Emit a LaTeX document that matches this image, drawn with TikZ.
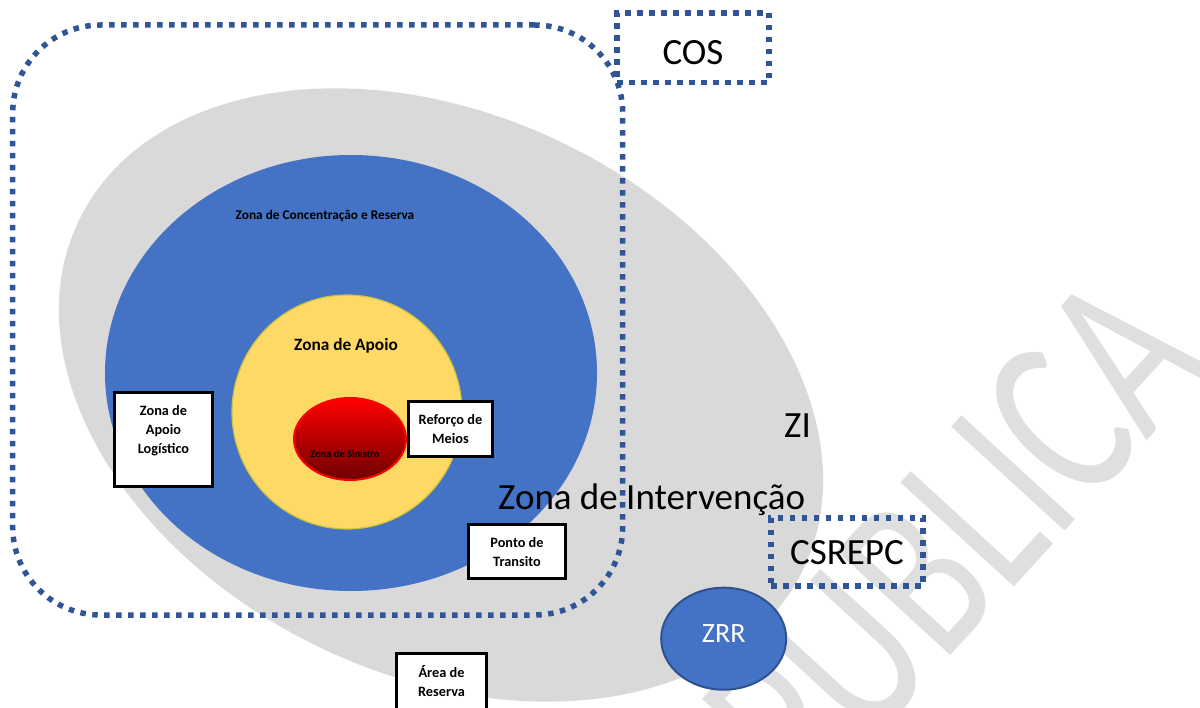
\documentclass[tikz,border=0pt]{standalone}
\usepackage{fontspec}
\setmainfont{Carlito}
\newfontfamily\wmfont[FakeStretch=0.72]{Carlito}
\usetikzlibrary{shapes.geometric}
\definecolor{zgrey}{HTML}{D9D9D9}
\definecolor{zblue}{HTML}{4472C4}
\definecolor{zyellow}{HTML}{FFD966}
\definecolor{zyellowedge}{RGB}{205,195,60}
\definecolor{dotblue}{HTML}{2F5597}
\definecolor{zrrline}{HTML}{2F528F}
\definecolor{wmark}{HTML}{DFDFDF}
\definecolor{darkred}{RGB}{110,0,0}
\definecolor{midred}{RGB}{215,0,0}
% top-aligned text block of fixed size for the white label boxes
\newcommand\boxlines[3]{\parbox[c][#2][t]{#1}{\centering\vspace*{10.2pt}\strut #3}}
\begin{document}
\begin{tikzpicture}[x=1pt,y=-1pt,
  zone/.style={ellipse, inner sep=0pt},
  infobox/.style={draw=black, line width=3pt, fill=white, inner sep=0pt,
    font=\bfseries\fontsize{14.3}{19}\selectfont},
  dotframe/.style={draw=dotblue, line width=5.5pt, dash pattern=on 5.5pt off 6.5pt, inner sep=0pt},
  bigtext/.style={font=\fontsize{37}{44}\selectfont, inner sep=0pt},
  zonelabel/.style={font=\bfseries\fontsize{#1}{#1}\selectfont, inner sep=0pt, anchor=base},
]
\useasboundingbox (0,0) rectangle (1200,708);
\clip (0,0) rectangle (1200,708);

% background watermark
\node[text=wmark, font=\wmfont\fontsize{240}{240}\selectfont, rotate=47.5, anchor=base east, inner sep=0pt]
  (wm) at (1214.5,368) {PUBLICA};

% nested zones
\node[zone, fill=zgrey, minimum width=804pt, minimum height=560pt, rotate=-25.7] (zi) at (441,395) {};
\node[zone, fill=zblue, minimum width=492pt, minimum height=436pt] (zcr) at (351,373) {};
\node[zone, fill=zyellow, draw=zyellowedge, line width=1.2pt, minimum width=230pt, minimum height=234pt] (za) at (347,412) {};
\node[zone, draw=red, line width=2pt, top color=red, middle color=midred, bottom color=darkred,
  minimum width=112pt, minimum height=82pt] (zs) at (350,439) {};

% zone names
\node[zonelabel=13.3] (lzcr) at (325,219.5) {Zona de Concentração e Reserva};
\node[zonelabel=17.3] (lza) at (346,351) {Zona de Apoio};
\node[zonelabel=10.4] (lzs) at (345,458) {Zona de Sinistro};
\node[bigtext, anchor=base west] (lzi) at (784,438) {ZI};
\node[bigtext, anchor=base west] (lzint) at (498,510) {Zona de Intervenção};

% white label boxes
\node[infobox] (zal) at (163.5,439.5) {\boxlines{98pt}{94pt}{Zona de\\Apoio\\Logístico}};
\node[infobox] (rm) at (450.5,429) {\boxlines{84pt}{55pt}{Reforço de\\Meios}};
\node[infobox] (pt) at (517,551.5) {\boxlines{97pt}{54pt}{Ponto de\\Transito}};
\node[infobox] (ar) at (441.5,682.5) {\boxlines{90pt}{58pt}{Área de\\Reserva}};

% dotted frames
\node[dotframe, rounded corners=88pt, minimum width=610pt, minimum height=590pt] (cosarea) at (317.7,320) {};
\node[dotframe, bigtext, minimum width=152pt, minimum height=69.5pt, text height=34.5pt, text depth=0pt] (cos) at (693,47.75) {COS};
\node[dotframe, bigtext, minimum width=152pt, minimum height=68pt, text height=24.4pt, text depth=0pt] (csrepc) at (847,551.8) {CSREPC};

% reserve zone
\node[zone, fill=zblue, draw=zrrline, line width=2pt, minimum width=125pt, minimum height=102pt,
  text=white, font=\fontsize{28}{30}\selectfont, text depth=10pt] (zrr) at (723.7,638.7) {ZRR};
\end{tikzpicture}
\end{document}
